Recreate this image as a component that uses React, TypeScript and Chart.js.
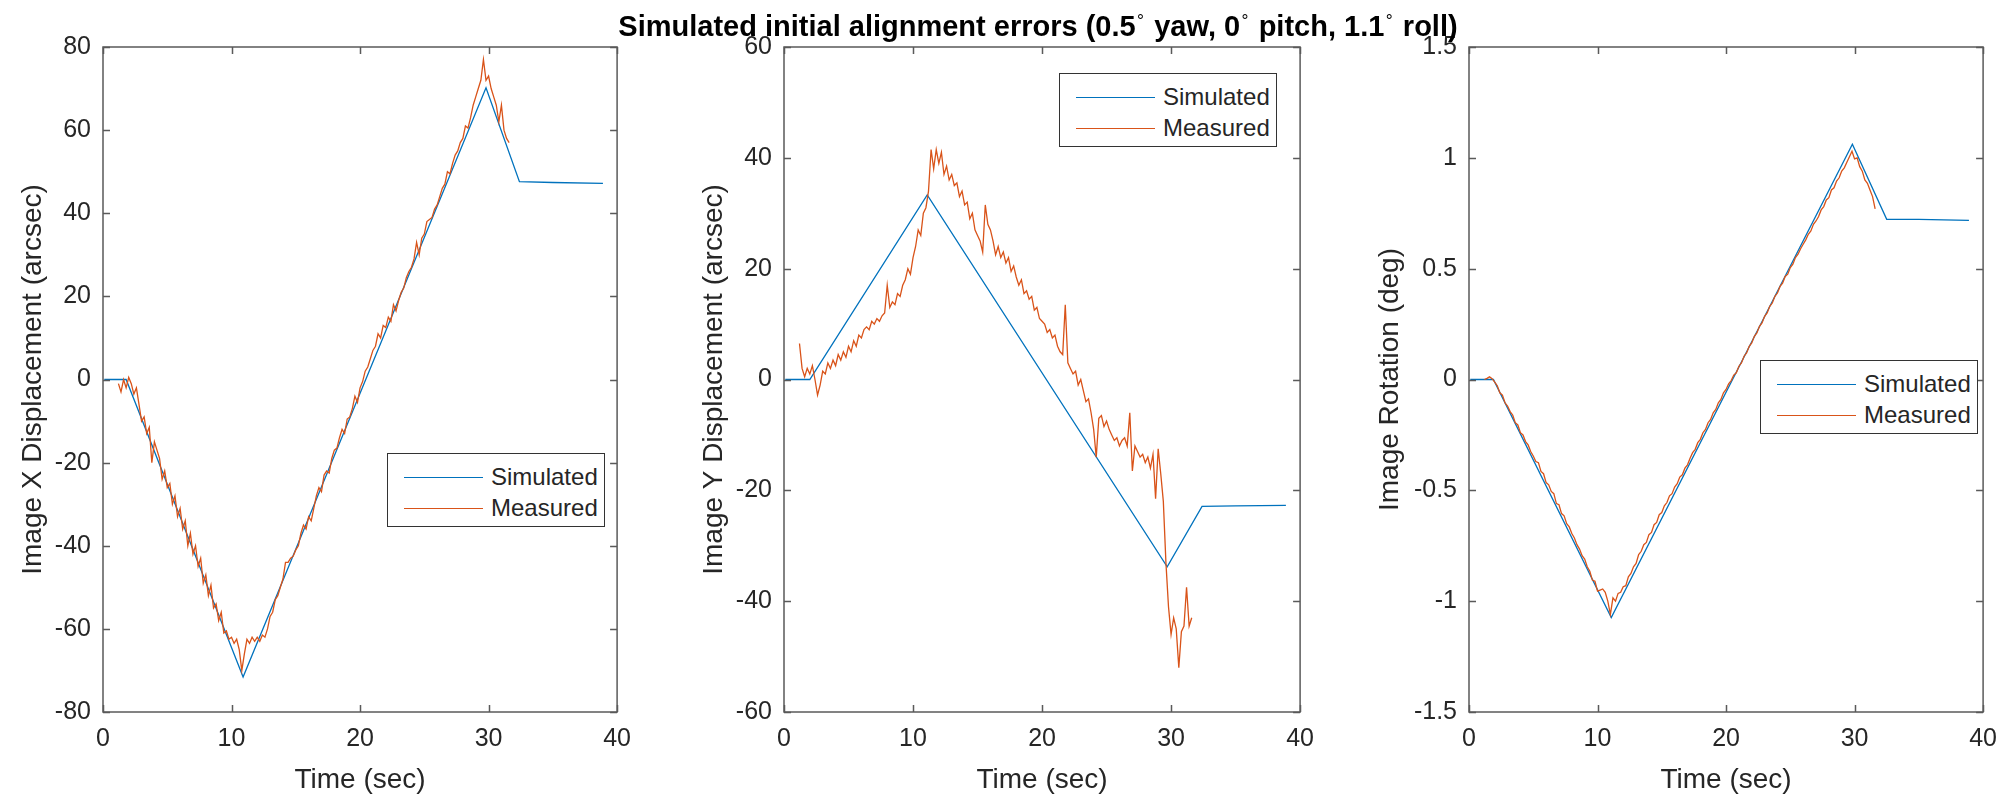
import React, { useEffect, useRef } from "react";
import { Chart, registerables } from "chart.js";

Chart.register(...registerables);

// ---------- data ----------
const X_TICKS = [0, 10, 20, 30, 40];
const X_TICK_LABELS = ["0", "10", "20", "30", "40"];

const Y_TICKS_X = [-80, -60, -40, -20, 0, 20, 40, 60, 80];
const Y_TICK_LABELS_X = ["-80", "-60", "-40", "-20", "0", "20", "40", "60", "80"];
const Y_TICKS_Y = [-60, -40, -20, 0, 20, 40, 60];
const Y_TICK_LABELS_Y = ["-60", "-40", "-20", "0", "20", "40", "60"];
const Y_TICKS_R = [-1.5, -1, -0.5, 0, 0.5, 1, 1.5];
const Y_TICK_LABELS_R = ["-1.5", "-1", "-0.5", "0", "0.5", "1", "1.5"];

// simulated (piecewise) series
const SIM_X_T = [0.1, 1.8, 10.9, 29.8, 32.4, 35.0, 38.9];
const SIM_X = [0, 0, -71.6, 70.2, 47.6, 47.4, 47.2];
const SIM_Y_T = [0.1, 2.0, 11.1, 29.7, 32.4, 35.0, 38.9];
const SIM_Y = [0, 0, 33.3, -33.8, -22.9, -22.8, -22.7];
const SIM_R_T = [0.1, 1.9, 11.07, 29.83, 32.5, 35.0, 38.9];
const SIM_R = [0, 0, -1.074, 1.061, 0.723, 0.722, 0.718];

// measured sample times (sec)
const MEAS_T = [
  1.2, 1.4, 1.6, 1.8, 2.0, 2.2, 2.4, 2.6, 2.8, 3.0,
  3.2, 3.4, 3.6, 3.8, 4.0, 4.2, 4.4, 4.6, 4.8, 5.0,
  5.2, 5.4, 5.6, 5.8, 6.0, 6.2, 6.4, 6.6, 6.8, 7.0,
  7.2, 7.4, 7.6, 7.8, 8.0, 8.2, 8.4, 8.6, 8.8, 9.0,
  9.2, 9.4, 9.6, 9.8, 10.0, 10.2, 10.4, 10.6, 10.8, 11.0,
  11.2, 11.4, 11.6, 11.8, 12.0, 12.2, 12.4, 12.6, 12.8, 13.0,
  13.2, 13.4, 13.6, 13.8, 14.0, 14.2, 14.4, 14.6, 14.8, 15.0,
  15.2, 15.4, 15.6, 15.8, 16.0, 16.2, 16.4, 16.6, 16.8, 17.0,
  17.2, 17.4, 17.6, 17.8, 18.0, 18.2, 18.4, 18.6, 18.8, 19.0,
  19.2, 19.4, 19.6, 19.8, 20.0, 20.2, 20.4, 20.6, 20.8, 21.0,
  21.2, 21.4, 21.6, 21.8, 22.0, 22.2, 22.4, 22.6, 22.8, 23.0,
  23.2, 23.4, 23.6, 23.8, 24.0, 24.2, 24.4, 24.6, 24.8, 25.0,
  25.2, 25.4, 25.6, 25.8, 26.0, 26.2, 26.4, 26.6, 26.8, 27.0,
  27.2, 27.4, 27.6, 27.8, 28.0, 28.2, 28.4, 28.6, 28.8, 29.0,
  29.2, 29.4, 29.6, 29.8, 30.0, 30.2, 30.4, 30.6, 30.8, 31.0,
  31.2, 31.4, 31.6,
];

const MEAS_X = [
  -1, -3, 0, -2, 0.5, -1, -3.5, -2, -6, -10,
  -9, -13, -11.5, -20, -15, -17, -19, -24, -22, -26,
  -25, -30, -28, -33, -31, -36, -34, -40, -37, -42,
  -40, -45, -43, -49, -47, -52, -49.5, -55, -54, -58,
  -56, -61, -60.5, -62.5, -62, -63.5, -62.5, -65, -70, -66,
  -62.5, -63.5, -62, -63, -62, -63, -61.5, -62, -60, -57,
  -56, -53, -52, -50, -48, -44, -44, -43, -42.5, -41,
  -40, -37, -35, -36, -33, -34, -31, -28, -26, -27,
  -23, -22, -22.5, -19, -17, -16.5, -14, -12, -13, -9.5,
  -9, -7, -4, -5.5, -2, -0.5, 2, 3, 5, 7,
  8, 11, 10, 13, 12.5, 15, 14, 18, 16.5, 19,
  21, 22, 24.5, 26, 27, 29, 33, 30, 34, 35,
  38, 38.5, 39, 41, 42, 44, 46, 47, 50, 49.5,
  52, 54, 55, 57, 58, 61, 60.5, 63, 66, 68,
  70, 72, 77, 72, 73, 70, 68, 66, 62, 66,
  60, 58, 57,
];

const MEAS_Y = [
  6.5, 2, 0.5, 2, 1, 2.5, 0, -2.8, -1, 1.5,
  1, 3, 2, 3.5, 2.5, 4.5, 3.5, 5, 4, 6,
  5, 7, 6, 8, 7.5, 9, 9.5, 9, 10.5, 10,
  11, 10.5, 11.5, 12, 17, 13, 14, 13.5, 15.5, 15,
  17, 18, 20, 19, 22, 24, 27, 26, 30, 31,
  34, 41.5, 38, 41.5, 39, 41, 37, 38.5, 36, 37,
  35, 35.5, 33, 34, 31.5, 32, 29, 30, 27, 26,
  25, 23, 31.5, 28, 27, 25, 22.5, 24, 22, 23,
  21, 22, 19.5, 20.5, 18.5, 17, 18, 15.5, 16, 14.5,
  15, 12.5, 13, 11, 10.5, 10, 8.5, 9, 7.5, 8,
  6, 5, 4.5, 13.5, 3, 2, 1, 1.5, -1, 0,
  -2, -4, -3.5, -6, -9, -14, -7, -6.5, -8.5, -7.5,
  -9, -10, -11, -10.5, -12, -11, -10.5, -12, -6, -16.5,
  -12, -13, -14, -13.5, -15, -14, -16, -13.5, -21.5, -12.5,
  -17, -22, -33, -41, -46, -43, -45, -52, -45.5, -44.5,
  -37.5, -44.5, -43,
];

const MEAS_R = [
  0, 0.005, 0.012, 0.004, -0.012, -0.028, -0.06, -0.07, -0.105, -0.12,
  -0.145, -0.16, -0.195, -0.205, -0.24, -0.25, -0.28, -0.295, -0.325, -0.345,
  -0.37, -0.375, -0.415, -0.425, -0.465, -0.475, -0.505, -0.515, -0.56, -0.565,
  -0.605, -0.615, -0.65, -0.665, -0.695, -0.715, -0.745, -0.765, -0.795, -0.81,
  -0.845, -0.865, -0.905, -0.91, -0.955, -0.95, -0.945, -0.96, -1.0, -1.06,
  -0.985, -1.0, -0.965, -0.96, -0.935, -0.93, -0.89, -0.875, -0.845, -0.83,
  -0.79, -0.775, -0.745, -0.735, -0.7, -0.69, -0.655, -0.645, -0.61, -0.6,
  -0.57, -0.555, -0.525, -0.515, -0.485, -0.47, -0.44, -0.43, -0.4, -0.385,
  -0.355, -0.33, -0.315, -0.285, -0.27, -0.24, -0.225, -0.195, -0.18, -0.15,
  -0.135, -0.105, -0.09, -0.06, -0.045, -0.02, -0.005, 0.02, 0.03, 0.06,
  0.075, 0.105, 0.12, 0.15, 0.165, 0.195, 0.21, 0.24, 0.255, 0.285,
  0.3, 0.33, 0.345, 0.375, 0.39, 0.42, 0.435, 0.465, 0.475, 0.505,
  0.52, 0.55, 0.565, 0.59, 0.61, 0.63, 0.655, 0.67, 0.7, 0.715,
  0.735, 0.765, 0.78, 0.81, 0.82, 0.855, 0.865, 0.895, 0.91, 0.94,
  0.955, 0.98, 1.005, 1.03, 0.995, 1.0, 0.96, 0.94, 0.9, 0.885,
  0.855, 0.825, 0.77,
];

const SERIES_LABELS = ["Simulated", "Measured"];
const TITLE_PARTS = ["Simulated initial alignment errors (0.5", " yaw, 0", " pitch, 1.1", " roll)"];

// ---------- styles ----------
const FONT = '"Liberation Sans", Arial, Helvetica, sans-serif';
const BLUE = "#0072BD";
const ORANGE = "#D95319";
const TEXT = "#262626";
const AXIS = "#5a5a5a";

const pts = (t: number[], v: number[]) => t.map((x, i) => ({ x, y: v[i] }));

const framePlugin = {
  id: "matlabFrame",
  afterDatasetsDraw(chart: any) {
    const { ctx, chartArea: a, scales } = chart;
    const x = scales.x;
    const y = scales.y;
    const L = 7;
    ctx.save();
    ctx.strokeStyle = AXIS;
    ctx.lineWidth = 1.5;
    ctx.beginPath();
    x.ticks.forEach((_: any, i: number) => {
      const px = Math.round(x.getPixelForTick(i)) + 0.5;
      ctx.moveTo(px, a.bottom);
      ctx.lineTo(px, a.bottom - L);
      ctx.moveTo(px, a.top);
      ctx.lineTo(px, a.top + L);
    });
    y.ticks.forEach((_: any, i: number) => {
      const py = Math.round(y.getPixelForTick(i)) + 0.5;
      ctx.moveTo(a.left, py);
      ctx.lineTo(a.left + L, py);
      ctx.moveTo(a.right, py);
      ctx.lineTo(a.right - L, py);
    });
    ctx.stroke();
    ctx.strokeRect(a.left, a.top, a.right - a.left, a.bottom - a.top);
    ctx.restore();
  },
};

type PanelCfg = {
  plotLeft: number;
  plotW: number;
  yTitle: string;
  yTicks: number[];
  yLabels: string[];
  simT: number[];
  sim: number[];
  meas: number[];
  titlePad: number;
  legend: { left: number; top: number };
};

const PANELS: PanelCfg[] = [
  {
    plotLeft: 103, plotW: 518, yTitle: "Image X Displacement (arcsec)",
    yTicks: Y_TICKS_X, yLabels: Y_TICK_LABELS_X, simT: SIM_X_T, sim: SIM_X, meas: MEAS_X,
    titlePad: 13, legend: { left: 387, top: 453 },
  },
  {
    plotLeft: 784, plotW: 520, yTitle: "Image Y Displacement (arcsec)",
    yTicks: Y_TICKS_Y, yLabels: Y_TICK_LABELS_Y, simT: SIM_Y_T, sim: SIM_Y, meas: MEAS_Y,
    titlePad: 13, legend: { left: 1059, top: 73 },
  },
  {
    plotLeft: 1469, plotW: 518, yTitle: "Image Rotation (deg)",
    yTicks: Y_TICKS_R, yLabels: Y_TICK_LABELS_R, simT: SIM_R_T, sim: SIM_R, meas: MEAS_R,
    titlePad: 4, legend: { left: 1760, top: 360 },
  },
];

const Y_AXIS_W = 100;
const RIGHT_PAD = 22;
const TOP = 47;
const X_AXIS_H = 85;
const H = 797;

function Panel({ p }: { p: PanelCfg }) {
  const ref = useRef<HTMLCanvasElement>(null);
  const w = Y_AXIS_W + p.plotW + RIGHT_PAD;
  useEffect(() => {
    if (!ref.current) return;
    const tickFont = { family: FONT, size: 25 };
    const titleFont = { family: FONT, size: 28 };
    const chart = new Chart(ref.current, {
      type: "line",
      data: {
        datasets: [
          {
            label: SERIES_LABELS[0], data: pts(p.simT, p.sim), borderColor: BLUE,
            backgroundColor: BLUE, borderWidth: 1.3, pointRadius: 0, tension: 0, order: 1,
          },
          {
            label: SERIES_LABELS[1], data: pts(MEAS_T, p.meas), borderColor: ORANGE,
            backgroundColor: ORANGE, borderWidth: 1.3, pointRadius: 0, tension: 0, order: 0,
          },
        ],
      },
      options: {
        responsive: false,
        animation: false,
        events: [],
        layout: { padding: { left: 0, right: RIGHT_PAD, top: TOP, bottom: 0 } },
        plugins: { legend: { display: false }, tooltip: { enabled: false }, title: { display: false } },
        scales: {
          x: {
            type: "linear", min: 0, max: 40,
            afterBuildTicks: (s: any) => { s.ticks = X_TICKS.map((v) => ({ value: v })); },
            afterFit: (s: any) => { s.height = X_AXIS_H; },
            ticks: {
              autoSkip: false, maxRotation: 0, padding: 12, color: TEXT, font: tickFont,
              callback: (_v: any, i: number) => X_TICK_LABELS[i],
            },
            grid: { display: false, drawTicks: false },
            border: { display: false },
            title: { display: true, text: "Time (sec)", color: TEXT, font: titleFont, padding: { top: 0, bottom: 0 } },
          },
          y: {
            type: "linear", min: p.yTicks[0], max: p.yTicks[p.yTicks.length - 1],
            afterBuildTicks: (s: any) => { s.ticks = p.yTicks.map((v) => ({ value: v })); },
            afterFit: (s: any) => { s.width = Y_AXIS_W; },
            ticks: {
              autoSkip: false, padding: 12, color: TEXT, font: tickFont,
              callback: (_v: any, i: number) => p.yLabels[i],
            },
            grid: { display: false, drawTicks: false },
            border: { display: false },
            title: { display: true, text: p.yTitle, color: TEXT, font: titleFont, padding: { top: p.titlePad, bottom: 0 } },
          },
        },
      },
      plugins: [framePlugin],
    } as any);
    return () => chart.destroy();
  }, []);
  return (
    <canvas
      ref={ref}
      width={w}
      height={H}
      style={{ position: "absolute", left: p.plotLeft - Y_AXIS_W, top: 0, width: w, height: H }}
    />
  );
}

function Legend({ left, top }: { left: number; top: number }) {
  const colors = [BLUE, ORANGE];
  return (
    <div
      style={{
        position: "absolute", left, top, width: 218, height: 74, boxSizing: "border-box",
        border: "1.5px solid #333", background: "#fff", fontFamily: FONT, fontSize: 24, color: TEXT,
      }}
    >
      {SERIES_LABELS.map((lab, i) => (
        <React.Fragment key={lab}>
          <div
            style={{
              position: "absolute", left: 16, top: 23 + 31 * i, width: 79, height: 0,
              borderTop: `1.3px solid ${colors[i]}`,
            }}
          />
          <div
            style={{
              position: "absolute", left: 103, top: 23 + 31 * i - 14, height: 28, lineHeight: "28px",
              whiteSpace: "nowrap",
            }}
          >
            {lab}
          </div>
        </React.Fragment>
      ))}
    </div>
  );
}

function Title() {
  const deg = (
    <span style={{ fontWeight: "normal", fontSize: "0.6em", position: "relative", top: "-0.55em", margin: "0 0.12em 0 0.08em" }}>
      {"\u00B0"}
    </span>
  );
  return (
    <div
      style={{
        position: "absolute", left: 1038, top: 12, transform: "translateX(-50%)", whiteSpace: "nowrap",
        fontFamily: FONT, fontWeight: "bold", fontSize: 29, lineHeight: "29px", color: "#000",
      }}
    >
      {TITLE_PARTS[0]}{deg}{TITLE_PARTS[1]}{deg}{TITLE_PARTS[2]}{deg}{TITLE_PARTS[3]}
    </div>
  );
}

export default function App() {
  return (
    <div style={{ position: "absolute", left: 0, top: 0, width: 2015, height: 797, background: "#fff", overflow: "hidden" }}>
      {PANELS.map((p, i) => (
        <Panel key={i} p={p} />
      ))}
      {PANELS.map((p, i) => (
        <Legend key={"l" + i} left={p.legend.left} top={p.legend.top} />
      ))}
      <Title />
    </div>
  );
}
